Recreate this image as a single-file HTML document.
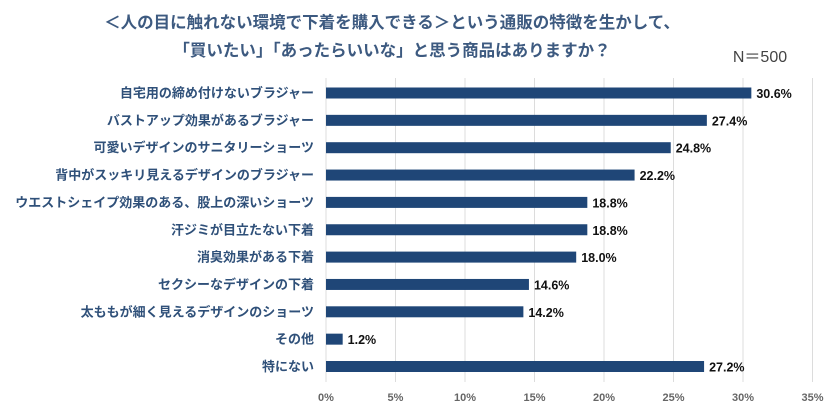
<!DOCTYPE html>
<html><head><meta charset="utf-8"><style>
body{margin:0;background:#fff;width:840px;height:411px;overflow:hidden;font-family:"Liberation Sans","Noto Sans CJK JP",sans-serif}
</style></head><body>
<svg width="840" height="411">
<text x="392" y="28" text-anchor="middle" font-size="16.5" font-weight="bold" fill="#3d5a80">＜人の目に触れない環境で下着を購入できる＞という通販の特徴を生かして、</text>
<text x="392" y="56" text-anchor="middle" font-size="16.5" font-weight="bold" fill="#3d5a80">「買いたい」「あったらいいな」と思う商品はありますか？</text>
<text x="760" y="62" text-anchor="middle" font-size="16" fill="#444">N＝500</text>
<g id="grid"></g><g id="bars"></g><g id="ticks"></g>
</svg>
<script>
const categories=["自宅用の締め付けないブラジャー","バストアップ効果があるブラジャー","可愛いデザインのサニタリーショーツ","背中がスッキリ見えるデザインのブラジャー","ウエストシェイプ効果のある、股上の深いショーツ","汗ジミが目立たない下着","消臭効果がある下着","セクシーなデザインの下着","太ももが細く見えるデザインのショーツ","その他","特にない"];
const values=[30.6,27.4,24.8,22.2,18.8,18.8,18.0,14.6,14.2,1.2,27.2];
const tickValues=[0,5,10,15,20,25,30,35];
const NS="http://www.w3.org/2000/svg";
const x=v=>326+v*13.9;
const y=i=>93+i*27.35;
function mk(t,a,p){const e=document.createElementNS(NS,t);for(const k in a)e.setAttribute(k,a[k]);p.appendChild(e);return e;}
const g=document.getElementById('grid'),b=document.getElementById('bars'),tk=document.getElementById('ticks');
tickValues.forEach(v=>{
 const l=mk('line',{x1:x(v),x2:x(v),y1:78,y2:382,stroke:'#dcdcdc','stroke-width':1},g);
 
 
 const t=mk('text',{x:x(v),y:401,'text-anchor':'middle','font-size':11,'font-weight':'bold',fill:'#666'},tk);
 t.textContent=v+'%';
 
 
});
categories.forEach((c,i)=>{
 const yc=y(i);
 const r=mk('rect',{x:x(0),y:yc-5.5,width:x(values[i])-x(0),height:11,fill:'#1f4677'},b);
 
 
 const l=mk('text',{x:314,y:yc+4.5,'text-anchor':'end','font-size':13,'font-weight':'bold',fill:'#2f5079'},b);
 l.textContent=c;
 
 
 const v=mk('text',{x:x(values[i])+5,y:yc+5,'font-size':12.5,'font-weight':'bold',fill:'#111'},b);
 v.textContent=values[i].toFixed(1)+'%';
 
 
});
</script>
</body></html>
